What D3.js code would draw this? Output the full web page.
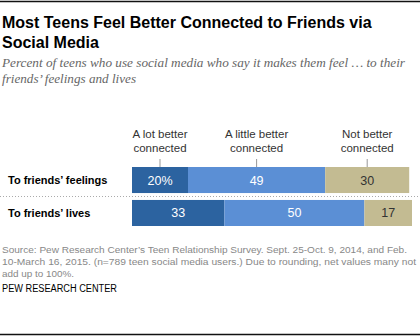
<!DOCTYPE html>
<html>
<head>
<meta charset="utf-8">
<script src="https://cdn.jsdelivr.net/npm/d3@7"></script>
<style>
  body { margin: 0; background: #fff; }
  svg { display: block; }
</style>
</head>
<body>
<script>
// data
var rows = ["To friends\u2019 feelings", "To friends\u2019 lives"]
var series = ["A lot better connected", "A little better connected", "Not better connected"]
var aLot = [20, 33]
var aLittle = [49, 50]
var notBetter = [30, 17]
var colors = ["#2c63a0", "#5b8fd5", "#c3bb92"]
var textColors = ["#fff", "#fff", "#333"]

var W = 420, H = 336
var svg = d3.select("body").append("svg").attr("width", W).attr("height", H)

// top + bottom rules
svg.append("line").attr("x1", 0).attr("x2", W).attr("y1", 1.5).attr("y2", 1.5)
  .attr("stroke", "#111").attr("stroke-width", 1.5)
svg.append("line").attr("x1", 0).attr("x2", W).attr("y1", 334.5).attr("y2", 334.5)
  .attr("stroke", "#111").attr("stroke-width", 1.5)

// title
var title = svg.append("text").attr("x", 2).attr("font-family", "Liberation Sans, Arial, sans-serif")
  .attr("font-weight", "bold").attr("font-size", 16).attr("fill", "#000")
title.append("tspan").attr("x", 2).attr("y", 28).text("Most Teens Feel Better Connected to Friends via")
title.append("tspan").attr("x", 2).attr("y", 47.5).text("Social Media")

// subtitle, squeezed to the reference widths
var subLines = [
  ["Percent of teens who use social media who say it makes them feel \u2026 to their", 67, 403],
  ["friends\u2019 feelings and lives", 83, 134]
]
svg.selectAll("text.sub").data(subLines).enter().append("text").attr("class", "sub")
  .attr("x", 2).attr("y", function(d) { return d[1] })
  .attr("textLength", function(d) { return d[2] }).attr("lengthAdjust", "spacingAndGlyphs")
  .attr("font-family", "Liberation Serif, Georgia, serif")
  .attr("font-style", "italic").attr("font-size", 13.5).attr("fill", "#666")
  .text(function(d) { return d[0] })

// scales
var x = d3.scaleLinear().domain([0, 100]).range([132, 412])
var y = d3.scaleBand().domain(rows).range([167, 226]).paddingInner(0.21)

var stackData = rows.map(function(r, i) {
  return { row: r, a: aLot[i], b: aLittle[i], c: notBetter[i] }
})
var stack = d3.stack().keys(["a", "b", "c"])(stackData)

var groups = svg.selectAll("g.series").data(stack).enter().append("g")
  .attr("class", "series")
groups.selectAll("rect").data(function(d) { return d }).enter().append("rect")
  .attr("x", function(d) { return x(d[0]) })
  .attr("width", function(d) { return x(d[1]) - x(d[0]) })
  .attr("y", function(d) { return y(d.data.row) })
  .attr("height", y.bandwidth())
  .attr("fill", function(d) { return colors[d3.select(this.parentNode).datum().index] })

groups.each(function(s, k) {
  d3.select(this).selectAll("text").data(s).enter().append("text")
    .attr("x", function(d) { return (x(d[0]) + x(d[1])) / 2 })
    .attr("y", function(d) { return y(d.data.row) + y.bandwidth() / 2 + 4.5 })
    .attr("text-anchor", "middle")
    .attr("font-family", "Liberation Sans, Arial, sans-serif")
    .attr("font-size", 12.5)
    .attr("fill", textColors[k])
    .text(function(d, i) { var v = d[1] - d[0]; return (k == 0 && i == 0) ? v + "%" : v })
})

// legend labels over first row
var first = stack.map(function(s) { return s[0] })
var leg = svg.selectAll("g.leg").data(first).enter().append("g").attr("class", "leg")
leg.append("line")
  .attr("x1", function(d) { return (x(d[0]) + x(d[1])) / 2 })
  .attr("x2", function(d) { return (x(d[0]) + x(d[1])) / 2 })
  .attr("y1", 159).attr("y2", 167).attr("stroke", "#999")
leg.append("text")
  .attr("text-anchor", "middle")
  .attr("font-family", "Liberation Sans, Arial, sans-serif")
  .attr("font-size", 11.5).attr("fill", "#333")
  .each(function(d, i) {
    var words = series[i].split(" ")
    var t = d3.select(this)
    var cx = (x(d[0]) + x(d[1])) / 2
    t.append("tspan").attr("x", cx).attr("y", 138).text(words.slice(0, -1).join(" "))
    t.append("tspan").attr("x", cx).attr("y", 152).text(words[words.length - 1])
  })

// row labels
svg.selectAll("text.row").data(rows).enter().append("text").attr("class", "row")
  .attr("x", 8).attr("y", function(d) { return y(d) + y.bandwidth() / 2 + 4 })
  .attr("font-family", "Liberation Sans, Arial, sans-serif")
  .attr("font-weight", "bold").attr("font-size", 11).attr("fill", "#000")
  .text(function(d) { return d })

// dotted separator
svg.append("line").attr("x1", 0).attr("x2", W).attr("y1", 196.5).attr("y2", 196.5)
  .attr("stroke", "#aaa").attr("stroke-dasharray", "1,2")

// source
var srcLines = [
  ["Source: Pew Research Center\u2019s Teen Relationship Survey. Sept. 25-Oct. 9, 2014, and Feb.", 253, 405],
  ["10-March 16, 2015.  (n=789 teen social media users.) Due to rounding, net values many not", 265, 414],
  ["add up to 100%.", 277, 72]
]
svg.selectAll("text.src").data(srcLines).enter().append("text").attr("class", "src")
  .attr("x", 2).attr("y", function(d) { return d[1] })
  .attr("textLength", function(d) { return d[2] }).attr("lengthAdjust", "spacingAndGlyphs")
  .attr("font-family", "Liberation Sans, Arial, sans-serif")
  .attr("font-size", 9.6).attr("fill", "#888")
  .text(function(d) { return d[0] })

svg.append("text").attr("x", 2).attr("y", 292)
  .attr("textLength", 115).attr("lengthAdjust", "spacingAndGlyphs")
  .attr("font-family", "Liberation Sans, Arial, sans-serif")
  .attr("font-size", 10).attr("fill", "#000")
  .text("PEW RESEARCH CENTER")
</script>
</body>
</html>
